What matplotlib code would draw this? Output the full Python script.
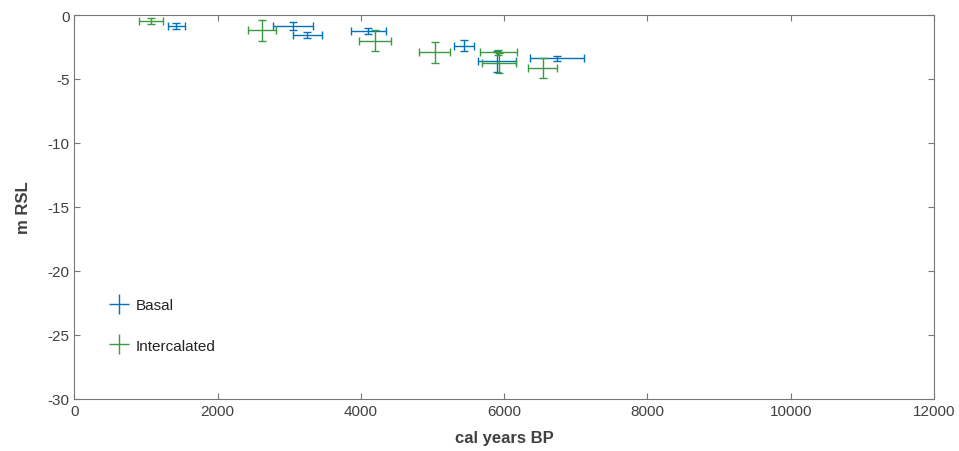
import matplotlib
matplotlib.use('Agg')
import matplotlib.pyplot as plt
from matplotlib.lines import Line2D

plt.rcParams['font.family'] = ['Liberation Sans', 'DejaVu Sans']
plt.rcParams['axes.unicode_minus'] = False

# basal index points (cal yr BP, m RSL) with errors
basal_age = [1424, 3049, 3252, 4104, 5436, 5900, 6740]
basal_age_err = [121, 277, 204, 244, 137, 265, 375]
basal_rsl = [-0.88, -0.88, -1.54, -1.25, -2.40, -3.62, -3.39]
basal_rsl_err = [0.22, 0.30, 0.22, 0.23, 0.42, 0.80, 0.18]

# intercalated index points
inter_age = [1071, 2620, 4197, 5031, 5918, 5932, 6538]
inter_age_err = [172, 200, 223, 218, 256, 237, 204]
inter_rsl = [-0.47, -1.20, -2.01, -2.92, -2.92, -3.78, -4.14]
inter_rsl_err = [0.27, 0.82, 0.81, 0.80, 0.20, 0.78, 0.80]

blue = '#0072BD'
green = '#3a9a3f'
txt = '#404040'

fig = plt.figure(figsize=(9.59, 4.52), dpi=100)
ax = fig.add_axes([0.0775, 0.1157, 0.8965, 0.8489])

ax.errorbar(basal_age, basal_rsl, xerr=basal_age_err, yerr=basal_rsl_err,
            fmt='none', ecolor=blue, elinewidth=1.0, capsize=3.2, capthick=1.0)
ax.errorbar(inter_age, inter_rsl, xerr=inter_age_err, yerr=inter_rsl_err,
            fmt='none', ecolor=green, elinewidth=1.0, capsize=3.2, capthick=1.0)

ax.set_xlim(0, 12000)
ax.set_ylim(-30, 0)
ax.set_xticks(range(0, 12001, 2000))
ax.set_yticks(range(-30, 1, 5))

ax.tick_params(direction='in', top=True, right=True, length=4, width=0.8,
               colors='#777777', labelcolor=txt, labelsize=11)
for s in ax.spines.values():
    s.set_color('#777777')
    s.set_linewidth(0.8)

ax.set_xlabel('cal years BP', fontsize=12, fontweight='bold', color=txt, labelpad=9)
ax.set_ylabel('m RSL', fontsize=12, fontweight='bold', color=txt, labelpad=12)

handles = [Line2D([], [], color=blue, marker='+', linestyle='none',
                  markersize=14, markeredgewidth=1.0),
           Line2D([], [], color=green, marker='+', linestyle='none',
                  markersize=14, markeredgewidth=1.0)]
leg = ax.legend(handles, ['Basal', 'Intercalated'], loc='lower left',
                bbox_to_anchor=(0.018, 0.084), frameon=False, fontsize=11,
                labelspacing=1.75, handletextpad=0.1)
for t in leg.get_texts():
    t.set_color('#222222')

fig.savefig('out.png', dpi=100)
